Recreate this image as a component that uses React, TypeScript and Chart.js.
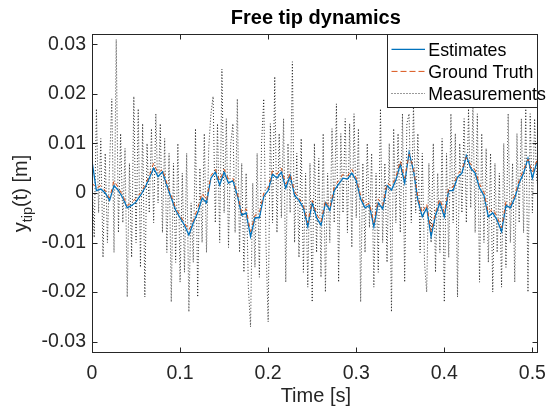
import React, { useEffect, useRef } from "react";
import { Chart, registerables } from "chart.js";

Chart.register(...registerables);

// ---------- data ----------
const EST_PERIOD = 0.005; // s, sample period of estimates / ground truth
const MEAS_PERIOD = 0.0025; // s, sample period of measurements

const seriesLabels = ["Estimates", "Ground Truth", "Measurements"];

const estimates = [
  0.0065, 0.0005, 0.0008, 0.0, -0.0015, 0.0015, 0.0005, -0.001, -0.003, -0.0025,
  -0.0018, -0.0005, 0.001, 0.003, 0.005, 0.0033, 0.0043, 0.0015, -0.001, -0.0035,
  -0.005, -0.0065, -0.0085, -0.006, -0.004, -0.001, -0.002, 0.003, 0.0042, 0.0016,
  0.0042, 0.002, 0.0025, -0.0005, -0.0045, -0.004, -0.0088, -0.005, -0.005, -0.0007,
  0.0005, 0.0038, 0.003, 0.0042, 0.001, 0.0035, -0.0005, -0.0015, -0.003, -0.0068,
  -0.002, -0.005, -0.0065, -0.002, -0.0035, 0.0005, 0.0018, 0.003, 0.0028, 0.004,
  0.0025, -0.0012, -0.003, -0.0025, -0.0068, -0.002, -0.0032, 0.0015, 0.0006, 0.0026,
  0.0058, 0.002, 0.0082, 0.0045, -0.0015, -0.0048, -0.003, -0.0088, -0.0045, -0.002,
  -0.0048, 0.0005, 0.0005, 0.0032, 0.004, 0.0075, 0.005, 0.004, 0.001, -0.0005,
  -0.0048, -0.004, -0.0055, -0.0078, -0.0025, -0.003, -0.001, 0.002, 0.004, 0.007,
  0.003, 0.0062,
];

const groundTruth = [
  0.002, 0.001, 0.0015, 0.0005, -0.001, 0.0025, 0.001, -0.0005, -0.0025, -0.002,
  -0.001, 0.0, 0.0015, 0.0035, 0.006, 0.004, 0.0048, 0.002, -0.0005, -0.003,
  -0.0045, -0.006, -0.0075, -0.0055, -0.003, 0.0, -0.0015, 0.0035, 0.0048, 0.0025,
  0.0048, 0.0028, 0.003, 0.0, -0.004, -0.0032, -0.0078, -0.0045, -0.004, 0.0,
  0.0012, 0.0045, 0.0038, 0.005, 0.0018, 0.004, 0.0002, -0.001, -0.0025, -0.006,
  -0.0015, -0.0042, -0.0058, -0.0015, -0.003, 0.0012, 0.0025, 0.0038, 0.0034, 0.0048,
  0.003, -0.0005, -0.0025, -0.002, -0.006, -0.0012, -0.0025, 0.002, 0.0014, 0.0032,
  0.0065, 0.003, 0.0078, 0.005, -0.0008, -0.004, -0.0022, -0.0078, -0.0038, -0.0012,
  -0.004, 0.001, 0.0012, 0.0038, 0.0048, 0.0072, 0.0058, 0.0046, 0.0018, 0.0002,
  -0.004, -0.0032, -0.0048, -0.007, -0.0018, -0.0024, -0.0004, 0.0026, 0.0048, 0.0068,
  0.0042, 0.0065,
];

const measurements = [
  0.003, -0.009, 0.017, -0.004, 0.011, -0.013, 0.008, -0.01, 0.006, 0.019,
  -0.012, 0.031, -0.008, 0.012, -0.006, 0.009, -0.021, 0.006, -0.013, 0.0195,
  -0.01, 0.017, -0.015, 0.014, -0.021, 0.01, -0.004, 0.013, -0.006, 0.016,
  -0.002, 0.014, -0.008, 0.011, -0.012, 0.008, -0.022, 0.006, -0.014, 0.01,
  -0.018, 0.004, -0.016, 0.008, -0.024, -0.002, -0.014, 0.013, -0.021, 0.005,
  -0.01, 0.012, -0.012, 0.009, 0.016, 0.0195, -0.006, 0.014, -0.01, 0.025,
  -0.004, 0.015, -0.011, 0.01, 0.014, -0.008, 0.019, -0.012, 0.006, -0.016,
  0.004, -0.019, -0.027, 0.002, -0.015, 0.008, -0.017, 0.01, 0.019, -0.01,
  -0.026, 0.014, -0.006, 0.0235, -0.008, 0.012, -0.005, 0.015, -0.018, 0.01,
  -0.004, 0.0265, -0.01, 0.008, -0.013, 0.011, -0.016, 0.004, -0.019, 0.006,
  -0.022, 0.01, -0.012, 0.007, -0.017, 0.012, -0.02, 0.004, -0.01, 0.013,
  -0.006, 0.018, -0.018, 0.012, -0.004, 0.015, -0.008, 0.014, -0.011, 0.016,
  -0.005, 0.013, -0.022, 0.006, -0.012, 0.01, -0.007, 0.008, -0.019, 0.004,
  -0.016, 0.017, -0.01, 0.006, -0.014, 0.01, -0.024, 0.013, -0.006, 0.012,
  -0.008, 0.016, -0.018, 0.014, 0.016, -0.006, 0.018, -0.004, 0.012, -0.012,
  0.008, -0.014, -0.02, 0.006, -0.01, 0.01, -0.016, 0.004, -0.012, 0.011,
  -0.022, 0.008, -0.013, 0.016, -0.006, 0.012, -0.021, 0.01, -0.004, 0.015,
  -0.006, 0.017, -0.003, 0.018, -0.008, 0.016, -0.018, 0.012, -0.01, 0.009,
  -0.014, 0.008, -0.02, 0.006, -0.012, 0.004, -0.019, 0.01, -0.015, 0.016,
  -0.01, 0.006, -0.018, 0.012, -0.006, 0.015, -0.008, 0.017, -0.02, 0.016,
  -0.004, 0.015, 0.002,
];

const xTicks = [0, 0.1, 0.2, 0.3, 0.4, 0.5];
const xTickLabels = ["0", "0.1", "0.2", "0.3", "0.4", "0.5"];
const yTicks = [-0.03, -0.02, -0.01, 0, 0.01, 0.02, 0.03];
const yTickLabels = ["-0.03", "-0.02", "-0.01", "0", "0.01", "0.02", "0.03"];

const X_MIN = 0;
const X_MAX = 0.506;
const Y_MIN = -0.0323;
const Y_MAX = 0.0321;

const titleText = "Free tip dynamics";
const xLabelText = "Time [s]";
const yLabelMain = "y";
const yLabelSub = "tip";
const yLabelRest = "(t) [m]";

// ---------- styles ----------
const FONT = "'Liberation Sans', Arial, Helvetica, sans-serif";
const AXIS_COLOR = "#262626";
const colors = ["#0072BD", "#D95319", "#000000"];
const dashes: number[][] = [[], [4, 4], [1, 2]];
const widths = [1.3, 1.0, 0.8];
const drawOrder = [2, 1, 3]; // higher = drawn earlier (further back)

const toPoints = (vals: number[], period: number) =>
  vals.map((v, i) => ({ x: Math.round(i * period * 1e6) / 1e6, y: v }));

const matlabPlugin = {
  id: "matlabDecor",
  beforeDraw(chart: any) {
    const { ctx, width, height } = chart;
    ctx.save();
    ctx.fillStyle = "#ffffff";
    ctx.fillRect(0, 0, width, height);
    ctx.restore();
  },
  afterDatasetsDraw(chart: any) {
    const { ctx, chartArea: a, scales } = chart;
    const L = Math.round(a.left) + 0.5;
    const R = Math.round(a.right) - 0.5;
    const T = Math.round(a.top) + 0.5;
    const B = Math.round(a.bottom) - 0.5;
    ctx.save();
    ctx.strokeStyle = AXIS_COLOR;
    ctx.lineWidth = 1;
    ctx.setLineDash([]);
    const tl = 5;
    ctx.beginPath();
    xTicks.forEach((v) => {
      const px = Math.round(scales.x.getPixelForValue(v)) + 0.5;
      ctx.moveTo(px, B);
      ctx.lineTo(px, B - tl);
      ctx.moveTo(px, T);
      ctx.lineTo(px, T + tl);
    });
    yTicks.forEach((v) => {
      const py = Math.round(scales.y.getPixelForValue(v)) + 0.5;
      ctx.moveTo(L, py);
      ctx.lineTo(L + tl, py);
      ctx.moveTo(R, py);
      ctx.lineTo(R - tl, py);
    });
    ctx.stroke();
    ctx.strokeRect(L, T, R - L, B - T);

    // legend
    const lx0 = 387.5, ly0 = T, lx1 = R, ly1 = 107.5;
    ctx.fillStyle = "#ffffff";
    ctx.fillRect(lx0, ly0, lx1 - lx0, ly1 - ly0);
    ctx.strokeRect(lx0, ly0, lx1 - lx0, ly1 - ly0);
    const rows = [50.8, 72.9, 95.0];
    ctx.font = `17.8px ${FONT}`;
    ctx.textBaseline = "middle";
    ctx.textAlign = "left";
    seriesLabels.forEach((lab, i) => {
      const yy = rows[i] - 1.5;
      ctx.save();
      ctx.strokeStyle = colors[i];
      ctx.lineWidth = widths[i];
      ctx.setLineDash(dashes[i].length ? [6, 3] : []);
      if (i === 2) ctx.setLineDash([1, 2]);
      ctx.beginPath();
      ctx.moveTo(391.5, yy);
      ctx.lineTo(425, yy);
      ctx.stroke();
      ctx.restore();
      ctx.fillStyle = "#000000";
      ctx.fillText(lab, 428.3, rows[i]);
    });

    // title
    const cx = (a.left + a.right) / 2 + 1;
    ctx.fillStyle = "#000000";
    ctx.textAlign = "center";
    ctx.textBaseline = "alphabetic";
    ctx.font = `bold 20px ${FONT}`;
    ctx.fillText(titleText, cx, 23.5);

    // x label
    ctx.fillStyle = AXIS_COLOR;
    ctx.font = `20px ${FONT}`;
    ctx.fillText(xLabelText, cx, 402);

    // y label with subscript
    const cy = (a.top + a.bottom) / 2;
    ctx.save();
    ctx.translate(27, cy);
    ctx.rotate(-Math.PI / 2);
    const mainFont = `20px ${FONT}`;
    const subFont = `14.5px ${FONT}`;
    ctx.font = mainFont;
    const w1 = ctx.measureText(yLabelMain).width;
    const w3 = ctx.measureText(yLabelRest).width;
    ctx.font = subFont;
    const w2 = ctx.measureText(yLabelSub).width;
    const total = w1 + w2 + w3;
    let x0 = -total / 2;
    ctx.textAlign = "left";
    ctx.font = mainFont;
    ctx.fillText(yLabelMain, x0, 0);
    x0 += w1;
    ctx.font = subFont;
    ctx.fillText(yLabelSub, x0, 5);
    x0 += w2;
    ctx.font = mainFont;
    ctx.fillText(yLabelRest, x0, 0);
    ctx.restore();

    ctx.restore();
  },
};

export default function App() {
  const ref = useRef<HTMLCanvasElement | null>(null);

  useEffect(() => {
    document.body.style.margin = "0";
    const canvas = ref.current;
    if (!canvas) return;
    const tickFont = { family: FONT, size: 19.5 };
    const series = [estimates, groundTruth, measurements];
    const periods = [EST_PERIOD, EST_PERIOD, MEAS_PERIOD];
    const chart = new Chart(canvas, {
      type: "line",
      data: {
        datasets: series.map((vals, i) => ({
          label: seriesLabels[i],
          data: toPoints(vals, periods[i]),
          borderColor: colors[i],
          borderWidth: widths[i],
          borderDash: dashes[i],
          pointRadius: 0,
          tension: 0,
          fill: false,
          order: drawOrder[i],
        })),
      },
      options: {
        animation: false,
        responsive: false,
        maintainAspectRatio: false,
        devicePixelRatio: 1,
        layout: { padding: { left: 0, top: 34, right: 5, bottom: 0 } },
        plugins: {
          legend: { display: false },
          title: { display: false },
          tooltip: { enabled: false },
        },
        scales: {
          x: {
            type: "linear",
            min: X_MIN,
            max: X_MAX,
            afterBuildTicks: (scale: any) => {
              scale.ticks = xTicks.map((v) => ({ value: v }));
            },
            afterFit: (scale: any) => {
              scale.height = 59;
            },
            grid: { display: false, drawTicks: false },
            border: { display: false },
            ticks: {
              autoSkip: false,
              maxRotation: 0,
              padding: 9,
              color: AXIS_COLOR,
              font: tickFont,
              callback: (_v: any, i: number) => xTickLabels[i],
            },
          },
          y: {
            type: "linear",
            min: Y_MIN,
            max: Y_MAX,
            afterBuildTicks: (scale: any) => {
              scale.ticks = yTicks.map((v) => ({ value: v }));
            },
            afterFit: (scale: any) => {
              scale.width = 92;
            },
            grid: { display: false, drawTicks: false },
            border: { display: false },
            ticks: {
              autoSkip: false,
              padding: 6,
              color: AXIS_COLOR,
              font: tickFont,
              callback: (_v: any, i: number) => yTickLabels[i],
            },
          },
        },
      },
      plugins: [matlabPlugin],
    });
    return () => chart.destroy();
  }, []);

  return (
    <div style={{ width: 555, height: 412 }}>
      <canvas ref={ref} width={555} height={412} style={{ display: "block" }} />
    </div>
  );
}
